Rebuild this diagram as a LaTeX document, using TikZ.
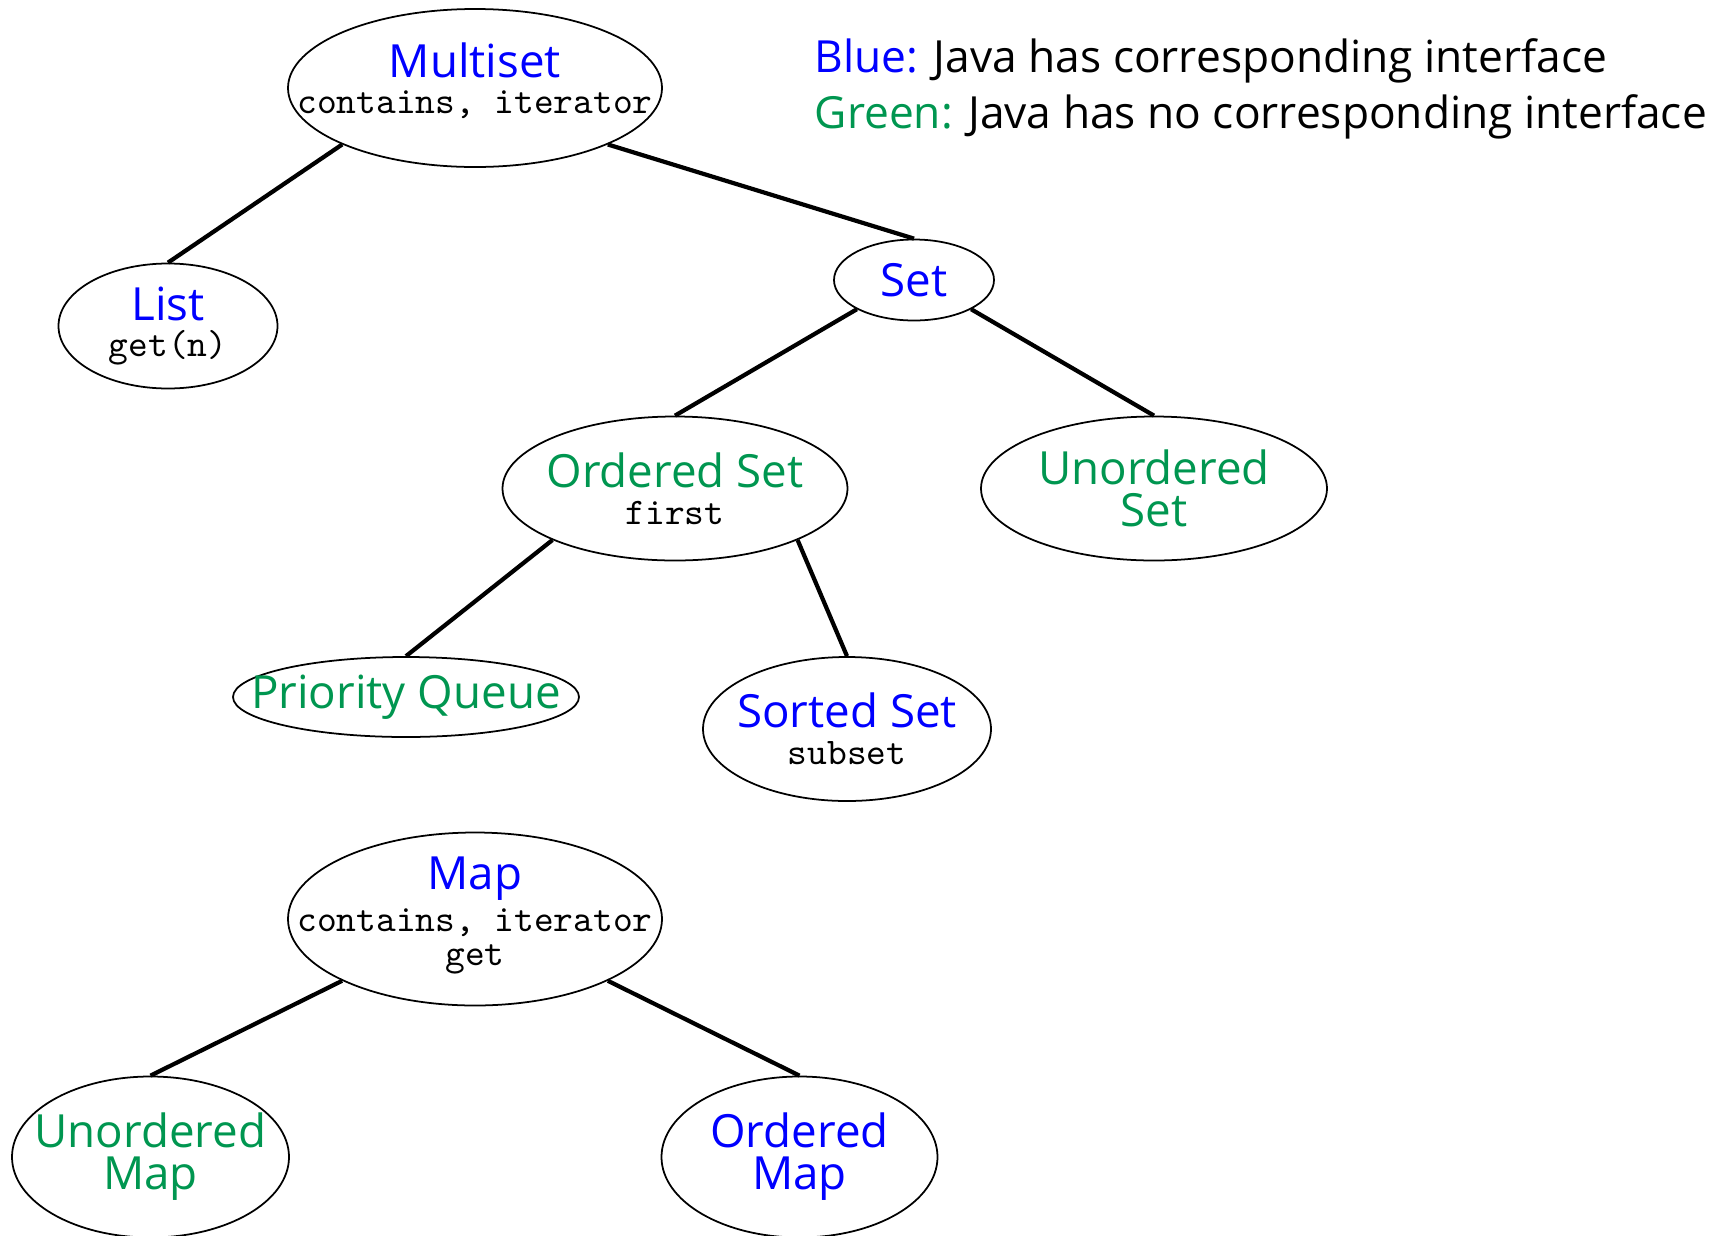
\documentclass[tikz,border=0pt]{standalone}
\usepackage{fontspec}
\newfontfamily\comicfont{Open Sans}
\usetikzlibrary{shapes.geometric}
\definecolor{javablue}{RGB}{0,0,255}
\definecolor{javagreen}{RGB}{0,150,80}
\tikzset{
	% ---- default
	every path/.style={line width=0.5pt},
	every picture/.style={scale=1.0},
	% ---- custom
	adt/.style={draw, ellipse, inner xsep=-2cm, inner ysep=-1cm, align=center,
		font=\comicfont\fontsize{13}{12}\selectfont},
	link/.style={line width=1.2pt},
	legend/.style={inner sep=0pt, font=\comicfont\fontsize{12.6}{14}\selectfont},
}
\newcommand{\ops}[1]{{\ttfamily\fontsize{10.7}{12}\selectfont #1}}
\newcommand{\has}[1]{\textcolor{javablue}{#1}}
\newcommand{\hasnot}[1]{\textcolor{javagreen}{#1}}

\begin{document}
\begin{tikzpicture}

% frame %{{{2

	\useasboundingbox (0,0) rectangle (17.23,-12.35);

% collections %{{{2

	\node[adt, minimum width=3.74cm, minimum height=1.58cm, text depth=5.6pt] (multiset) at (4.75,-0.88)
		{\has{Multiset}\\[-1.8pt]\ops{contains, iterator}};
	\node[adt, minimum width=2.19cm, minimum height=1.25cm] (list) at (1.68,-3.26)
		{\has{List}\\[-2pt]\ops{get(n)}};
	\node[adt, minimum width=1.60cm, minimum height=0.81cm] (set) at (9.14,-2.80)
		{\has{Set}};

% sets %{{{3

	\node[adt, minimum width=3.45cm, minimum height=1.44cm] (oset) at (6.75,-4.885)
		{\hasnot{Ordered Set}\\[-1.5pt]\ops{first}};
	\node[adt, minimum width=3.46cm, minimum height=1.44cm] (uset) at (11.54,-4.885)
		{\hasnot{Unordered}\\\hasnot{Set}};
	\node[adt, minimum width=3.46cm, minimum height=0.80cm] (pqueue) at (4.06,-6.97)
		{\hasnot{Priority Queue}};
	\node[adt, minimum width=2.88cm, minimum height=1.44cm] (sset) at (8.47,-7.29)
		{\has{Sorted Set}\\[-1.5pt]\ops{subset}};

% maps %{{{2

	\node[adt, minimum width=3.74cm, minimum height=1.73cm, text depth=4.5pt] (map) at (4.75,-9.19)
		{\has{Map}\\\ops{contains, iterator}\\[-2.6pt]\ops{get}};
	\node[adt, minimum width=2.77cm, minimum height=1.61cm] (umap) at (1.505,-11.57)
		{\hasnot{Unordered}\\\hasnot{Map}};
	\node[adt, minimum width=2.76cm, minimum height=1.61cm] (omap) at (7.995,-11.57)
		{\has{Ordered}\\\has{Map}};

% links %{{{2

	\draw[link] (multiset.south west) -- (list.north);
	\draw[link] (multiset.south east) -- (set.north);
	\draw[link] (set.south west) -- (oset.north);
	\draw[link] (set.south east) -- (uset.north);
	\draw[link] (oset.south west) -- (pqueue.north);
	\draw[link] (oset.south east) -- (sset.north);
	\draw[link] (map.south west) -- (umap.north);
	\draw[link] (map.south east) -- (omap.north);

% legend %{{{2

	\node[legend, anchor=base west] (legend blue) at (8.14,-0.725)
		{\has{Blue:} Java has corresponding interface};
	\node[legend, anchor=base west] (legend green) at (8.14,-1.28)
		{\hasnot{Green:} Java has no corresponding interface};

% closing %{{{2

\end{tikzpicture}
\end{document}
